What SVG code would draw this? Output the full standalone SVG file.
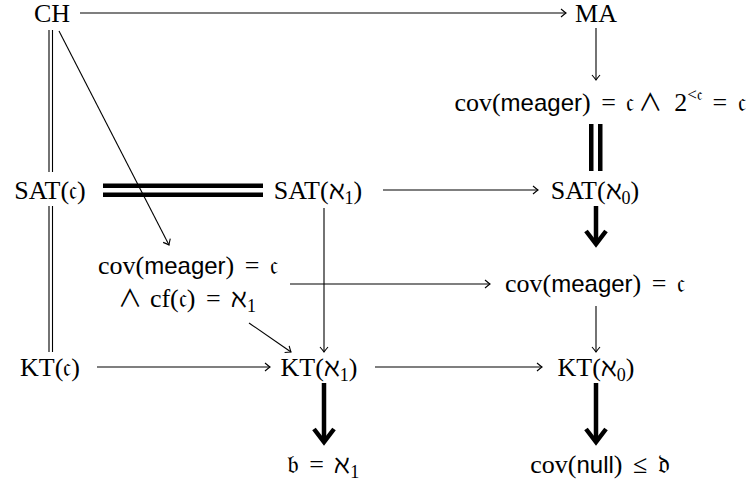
<svg xmlns="http://www.w3.org/2000/svg" width="753" height="485" viewBox="0 0 753 485">
<style>
  .t { font-family: "Liberation Serif", "DejaVu Serif", serif; font-size: 26px; fill: #000; text-anchor: middle; }
  .s { font-family: "Liberation Sans", "DejaVu Sans", sans-serif; font-size: 24px; }
  .f { font-family: "DejaVu Serif", "DejaVu Sans", "Noto Sans", serif; }
  .w { font-family: "Noto Sans CJK JP", "Noto Sans", "DejaVu Sans", sans-serif; font-size: 24px; }
  .sub { font-size: 18px; }
  .ln { stroke: #000; stroke-width: 1.1; fill: none; }
  .ar { marker-end: url(#to); }
  .thick { stroke: #000; stroke-width: 4.5; fill: none; }
  .bar { fill: #000; }
</style>
<defs>
  <marker id="to" markerUnits="userSpaceOnUse" markerWidth="12" markerHeight="12" viewBox="-8 -6 10 12" refX="0" refY="0" orient="auto" overflow="visible">
    <path d="M -5 -4 Q -1.5 -1 0 0 Q -1.5 1 -5 4" stroke="#000" stroke-width="1.1" fill="none"/>
  </marker>
</defs>

<g id="connectors">
  <line class="ln ar" x1="80" y1="13" x2="566" y2="13"/>
  <line class="ln ar" x1="596" y1="28" x2="596" y2="80"/>
  <rect class="bar" x="589" y="124" width="4.5" height="47"/>
  <rect class="bar" x="598" y="124" width="4.5" height="47"/>
  <line class="ln" x1="49" y1="30" x2="49" y2="172"/>
  <line class="ln" x1="52.5" y1="30" x2="52.5" y2="172"/>
  <line class="ln" x1="49" y1="206" x2="49" y2="352"/>
  <line class="ln" x1="52.5" y1="206" x2="52.5" y2="352"/>
  <rect class="bar" x="103" y="183.5" width="160" height="4.5"/>
  <rect class="bar" x="103" y="192.5" width="160" height="4.5"/>
  <line class="ln ar" x1="59" y1="31" x2="169" y2="245"/>
  <line class="ln ar" x1="383" y1="190" x2="538" y2="190"/>
  <line class="thick" x1="596" y1="206" x2="596" y2="243"/>
  <polyline class="thick" points="586,231 596,244 606,231"/>
  <line class="ln ar" x1="324" y1="208" x2="324" y2="352"/>
  <line class="ln ar" x1="290" y1="284" x2="490" y2="284"/>
  <line class="ln ar" x1="249" y1="323" x2="291" y2="352"/>
  <line class="ln ar" x1="596" y1="306" x2="596" y2="352"/>
  <line class="ln ar" x1="97" y1="367" x2="270" y2="367"/>
  <line class="ln ar" x1="375" y1="367" x2="542" y2="367"/>
  <line class="thick" x1="324" y1="383" x2="324" y2="441"/>
  <polyline class="thick" points="314,429 324,442 334,429"/>
  <line class="thick" x1="596" y1="383" x2="596" y2="441"/>
  <polyline class="thick" points="586,429 596,442 606,429"/>
</g>

<g id="n-ch"><text class="t" x="52" y="22">CH</text></g>
<g id="n-ma"><text class="t" x="596" y="22">MA</text></g>
<g id="n-cov-2c"><text class="t" x="600" y="111">cov(<tspan class="s">meager</tspan>)<tspan dx="4"> = </tspan><tspan class="f" dx="4">𝔠</tspan><tspan class="w" dx="4">∧</tspan><tspan dx="12">2</tspan><tspan font-size="17" dy="-11">&lt;<tspan class="f">𝔠</tspan></tspan><tspan dy="11" dx="4"> = </tspan><tspan class="f" dx="4">𝔠</tspan></text></g>
<g id="n-satc"><text class="t" x="50" y="199">SAT(<tspan class="f">𝔠</tspan>)</text></g>
<g id="n-sat1"><text class="t" x="318" y="199">SAT(ℵ<tspan class="sub" dy="5">1</tspan><tspan dy="-5">)</tspan></text></g>
<g id="n-sat0"><text class="t" x="595" y="199">SAT(ℵ<tspan class="sub" dy="5">0</tspan><tspan dy="-5">)</tspan></text></g>
<g id="n-covcf">
  <text class="t" x="188" y="274">cov(<tspan class="s">meager</tspan>)<tspan dx="4"> = </tspan><tspan class="f" dx="4">𝔠</tspan></text>
  <text class="t" x="187" y="307"><tspan class="w">∧</tspan><tspan dx="8">cf(</tspan><tspan class="f">𝔠</tspan>)<tspan dx="4"> = </tspan><tspan dx="4">ℵ</tspan><tspan class="sub" dy="5">1</tspan></text>
</g>
<g id="n-covc"><text class="t" x="595" y="292">cov(<tspan class="s">meager</tspan>)<tspan dx="4"> = </tspan><tspan class="f" dx="4">𝔠</tspan></text></g>
<g id="n-ktc"><text class="t" x="50" y="376">KT(<tspan class="f">𝔠</tspan>)</text></g>
<g id="n-kt1"><text class="t" x="319" y="376">KT(ℵ<tspan class="sub" dy="5">1</tspan><tspan dy="-5">)</tspan></text></g>
<g id="n-kt0"><text class="t" x="596" y="376">KT(ℵ<tspan class="sub" dy="5">0</tspan><tspan dy="-5">)</tspan></text></g>
<g id="n-b"><text class="t" x="323" y="473"><tspan class="f">𝔟</tspan><tspan dx="4"> = </tspan><tspan dx="4">ℵ</tspan><tspan class="sub" dy="5">1</tspan></text></g>
<g id="n-covnull"><text class="t" x="600" y="473">cov(<tspan class="s">null</tspan>)<tspan dx="4"> ≤ </tspan><tspan class="f" dx="4">𝔡</tspan></text></g>
</svg>
